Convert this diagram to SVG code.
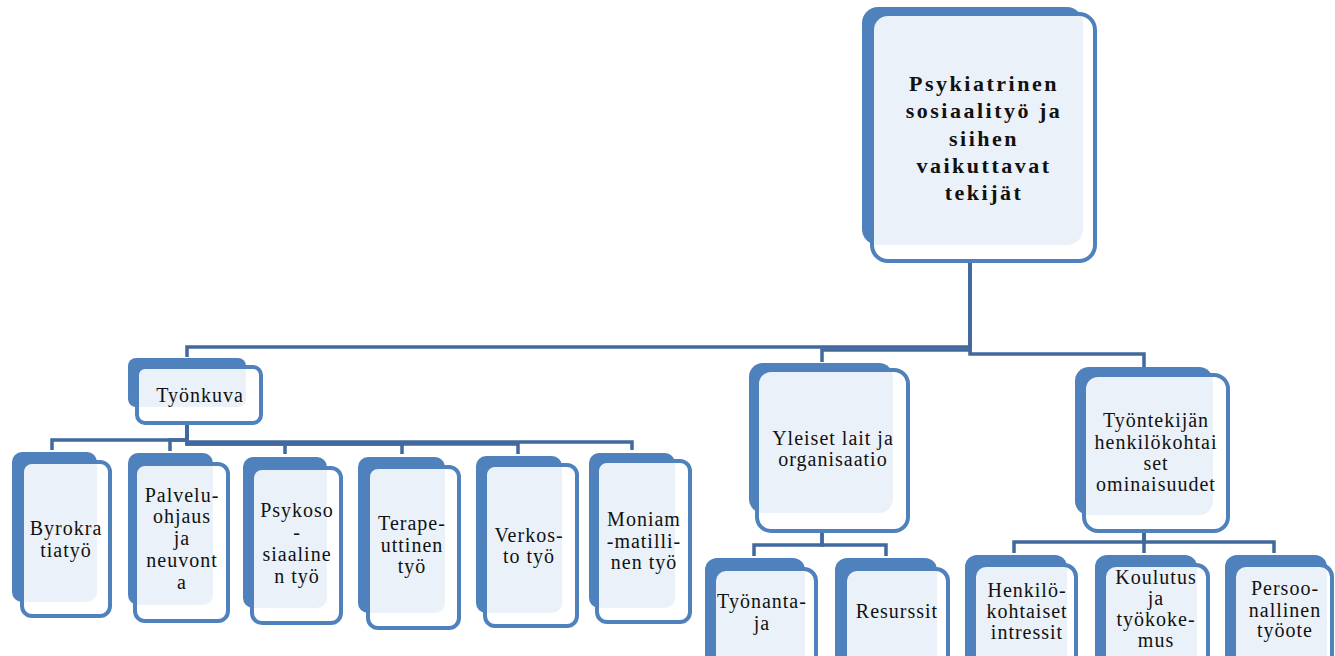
<svg xmlns="http://www.w3.org/2000/svg" width="1335" height="656" viewBox="0 0 1335 656">
<style>
.bk{fill:#4f81bd}
.fr{fill:#ffffff;fill-opacity:0.89;stroke:#4f81bd;stroke-width:4}
.t{font-family:"Liberation Serif","Times New Roman",serif;font-size:20px;letter-spacing:1px;fill:#111;text-anchor:middle}
.tb{font-family:"Liberation Serif","Times New Roman",serif;font-size:22px;font-weight:bold;letter-spacing:2.5px;fill:#111;text-anchor:middle}
.c{fill:none;stroke:#41699d;stroke-width:3.5}
</style>
<rect width="1335" height="656" fill="#ffffff"/>
<g id="connectors">
<path class="c" d="M970,263 V347 H187 V357"/>
<path class="c" d="M970,263 V350 H822 V362"/>
<path class="c" d="M970,263 V354 H1144 V367"/>
<path class="c" d="M187,425 V440 H52 V450"/>
<path class="c" d="M187,425 V440 H170 V451"/>
<path class="c" d="M187,425 V443 H285 V454"/>
<path class="c" d="M187,425 V444 H402 V454"/>
<path class="c" d="M187,425 V444 H518 V454"/>
<path class="c" d="M187,425 V442 H632 V450"/>
<path class="c" d="M822,533 V545 H754 V556"/>
<path class="c" d="M822,533 V545 H886 V556"/>
<path class="c" d="M1144,533 V542 H1014 V553"/>
<path class="c" d="M1144,533 V553"/>
<path class="c" d="M1144,533 V542 H1274 V553"/>
</g>
<g id="root">
<rect class="bk" x="862" y="7" width="221" height="238" rx="16"/>
<rect class="fr" x="872" y="14" width="223" height="247" rx="16"/>
<text class="tb" x="984" y="91">Psykiatrinen</text>
<text class="tb" x="984" y="118">sosiaalityö ja</text>
<text class="tb" x="984" y="146">siihen</text>
<text class="tb" x="984" y="173">vaikuttavat</text>
<text class="tb" x="984" y="200">tekijät</text>
</g>
<g id="tyonkuva">
<rect class="bk" x="128" y="358" width="118" height="49" rx="8"/>
<rect class="fr" x="137" y="367" width="124" height="56" rx="8"/>
<text class="t" x="200" y="402">Työnkuva</text>
</g>
<g id="byrokratiatyo">
<rect class="bk" x="12" y="452" width="85" height="150" rx="10"/>
<rect class="fr" x="22" y="462" width="88" height="154" rx="10"/>
<text class="t" x="66" y="535">Byrokra</text>
<text class="t" x="66" y="557">tiatyö</text>
</g>
<g id="palveluohjaus">
<rect class="bk" x="128" y="453" width="85" height="152" rx="10"/>
<rect class="fr" x="135" y="464" width="93" height="157" rx="10"/>
<text class="t" x="182" y="502">Palvelu-</text>
<text class="t" x="182" y="523">ohjaus</text>
<text class="t" x="182" y="545">ja</text>
<text class="t" x="182" y="567">neuvont</text>
<text class="t" x="182" y="589">a</text>
</g>
<g id="psykososiaalinen">
<rect class="bk" x="243" y="457" width="84" height="151" rx="10"/>
<rect class="fr" x="252" y="468" width="89" height="155" rx="10"/>
<text class="t" x="297" y="517">Psykoso</text>
<text class="t" x="297" y="539">-</text>
<text class="t" x="297" y="561">siaaline</text>
<text class="t" x="297" y="583">n työ</text>
</g>
<g id="terapeuttinen">
<rect class="bk" x="358" y="457" width="87" height="156" rx="10"/>
<rect class="fr" x="368" y="467" width="91" height="161" rx="10"/>
<text class="t" x="412" y="530">Terape-</text>
<text class="t" x="412" y="552">uttinen</text>
<text class="t" x="412" y="573">työ</text>
</g>
<g id="verkostotyo">
<rect class="bk" x="476" y="456" width="86" height="157" rx="10"/>
<rect class="fr" x="485" y="465" width="92" height="161" rx="10"/>
<text class="t" x="529" y="542">Verkos-</text>
<text class="t" x="529" y="563">to työ</text>
</g>
<g id="moniammatillinen">
<rect class="bk" x="589" y="453" width="86" height="155" rx="10"/>
<rect class="fr" x="597" y="461" width="93" height="161" rx="10"/>
<text class="t" x="644" y="526">Moniam</text>
<text class="t" x="644" y="548">-matilli-</text>
<text class="t" x="644" y="569">nen työ</text>
</g>
<g id="yleiset">
<rect class="bk" x="749" y="363" width="144" height="150" rx="14"/>
<rect class="fr" x="757" y="370" width="151" height="161" rx="14"/>
<text class="t" x="833" y="445">Yleiset lait ja</text>
<text class="t" x="833" y="466">organisaatio</text>
</g>
<g id="tyontekijan">
<rect class="bk" x="1075" y="367" width="138" height="148" rx="14"/>
<rect class="fr" x="1084" y="375" width="144" height="156" rx="14"/>
<text class="t" x="1156" y="427">Työntekijän</text>
<text class="t" x="1156" y="449">henkilökohtai</text>
<text class="t" x="1156" y="470">set</text>
<text class="t" x="1156" y="491">ominaisuudet</text>
</g>
<g id="tyonantaja">
<rect class="bk" x="705" y="558" width="100" height="120" rx="12"/>
<rect class="fr" x="714" y="569" width="102" height="110" rx="12"/>
<text class="t" x="762" y="608">Työnanta-</text>
<text class="t" x="762" y="630">ja</text>
</g>
<g id="resurssit">
<rect class="bk" x="835" y="558" width="102" height="120" rx="12"/>
<rect class="fr" x="845" y="569" width="103" height="110" rx="12"/>
<text class="t" x="897" y="618">Resurssit</text>
</g>
<g id="henkilokohtaiset">
<rect class="bk" x="965" y="555" width="102" height="120" rx="12"/>
<rect class="fr" x="974" y="565" width="102" height="110" rx="12"/>
<text class="t" x="1027" y="597">Henkilö-</text>
<text class="t" x="1027" y="618">kohtaiset</text>
<text class="t" x="1027" y="639">intressit</text>
</g>
<g id="koulutus">
<rect class="bk" x="1095" y="555" width="102" height="120" rx="12"/>
<rect class="fr" x="1104" y="565" width="104" height="110" rx="12"/>
<text class="t" x="1156" y="584">Koulutus</text>
<text class="t" x="1156" y="605">ja</text>
<text class="t" x="1156" y="626">työkoke-</text>
<text class="t" x="1156" y="647">mus</text>
</g>
<g id="persoonallinen">
<rect class="bk" x="1225" y="555" width="102" height="120" rx="12"/>
<rect class="fr" x="1234" y="565" width="98" height="110" rx="12"/>
<text class="t" x="1285" y="595">Persoo-</text>
<text class="t" x="1285" y="617">nallinen</text>
<text class="t" x="1285" y="637">työote</text>
</g>
</svg>
